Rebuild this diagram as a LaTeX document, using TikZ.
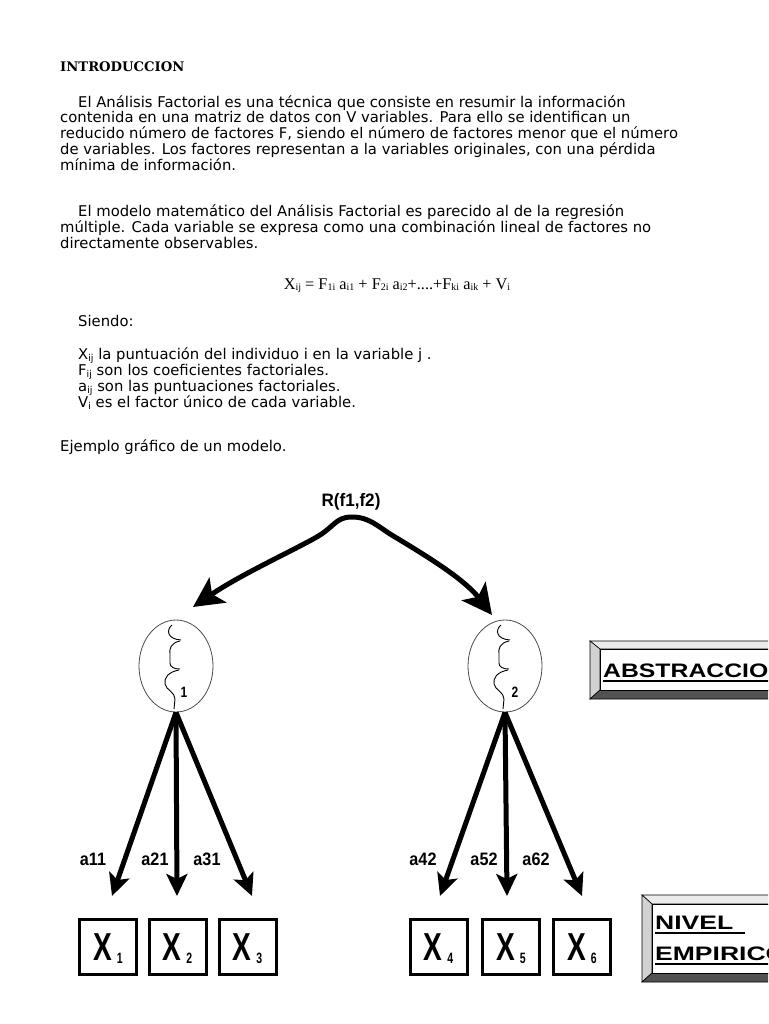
\documentclass[tikz,border=0pt]{standalone}
\usepackage{fontspec}
\usepackage{graphicx}
\setmainfont{DejaVu Sans}
\newfontfamily\titlefont{DejaVu Serif}
\newfontfamily\timesfont{Liberation Serif}
\newfontfamily\arialfont{Liberation Sans}
\usetikzlibrary{arrows.meta,shapes.geometric}
\newcommand{\sbx}[1]{\raisebox{-2pt}{\fontsize{9.5}{9.5}\selectfont #1}}
\newcommand{\fsb}[1]{\raisebox{-1.2pt}{\fontsize{10}{10}\selectfont #1}}
\newcommand{\narr}[2]{\scalebox{#1}[1]{#2}}
\newcommand{\xlab}[1]{\narr{0.72}{\fontsize{39}{39}\selectfont X}\hspace{5pt}\raisebox{-3pt}[0pt][0pt]{\narr{0.7}{\fontsize{15}{15}\selectfont #1}}}
\begin{document}
\begin{tikzpicture}[x=1pt,y=-1pt,
  body/.style={anchor=base west, inner sep=0pt, font=\fontsize{14.8}{16}\selectfont},
  ttl/.style={anchor=base west, inner sep=0pt, font=\titlefont\bfseries\fontsize{13.2}{14}\selectfont},
  formula/.style={anchor=base, inner sep=0pt, font=\timesfont\fontsize{16.3}{17}\selectfont},
  lab/.style={anchor=base, inner sep=0pt, font=\arialfont\bfseries\fontsize{18}{18}\selectfont},
  fnum/.style={anchor=base, inner sep=0pt, font=\arialfont\bfseries\fontsize{15}{15}\selectfont},
  factor/.style={ellipse, draw=black!70, line width=0.8pt, fill=white, minimum width=74pt, minimum height=92pt, inner sep=0pt},
  squig/.style={draw=black, line width=0.9pt},
  varbox/.style={rectangle, draw=black, line width=3pt, minimum width=57pt, minimum height=55pt, inner sep=0pt, font=\arialfont\bfseries},
  loadarrow/.style={line width=5pt, -{Stealth[length=22pt,width=21pt,inset=5pt]}},
  corrarrow/.style={line width=5pt, {Stealth[length=30pt,width=30pt,inset=7pt]}-{Stealth[length=30pt,width=30pt,inset=7pt]}},
  bevtop/.style={fill=black!8, draw=black, line width=0.6pt},
  bevleft/.style={fill=black!18, draw=black, line width=0.6pt},
  bevbot/.style={fill=black!68, draw=black, line width=0.6pt},
  bevinner/.style={fill=white, draw=black, line width=0.8pt},
  btntext/.style={anchor=base west, inner sep=0pt, font=\arialfont\bfseries\fontsize{19.5}{19.5}\selectfont}
]
\useasboundingbox (0,0) rectangle (768,1024);
\clip (0,0) rectangle (768,1024);
\fill[white] (0,0) rectangle (768,1024);

% ---------- text ----------
\node[ttl] (title) at (60,72) {INTRODUCCION};
\node[body] (p1a) at (78,107.5) {El Análisis Factorial es una técnica que consiste en resumir la información};
\node[body] (p1b) at (60,123) {contenida en una matriz de datos con V variables. Para ello se identifican un};
\node[body] (p1c) at (60,138.8) {reducido número de factores F, siendo el número de factores menor que el número};
\node[body] (p1d) at (60,154.6) {de variables. Los factores representan a la variables originales, con una pérdida};
\node[body] (p1e) at (60,170.4) {mínima de información.};

\node[body] (p2a) at (78,216.5) {El modelo matemático del Análisis Factorial es parecido al de la regresión};
\node[body] (p2b) at (60,232.3) {múltiple. Cada variable se expresa como una combinación lineal de factores no};
\node[body] (p2c) at (60,248.1) {directamente observables.};

\node[formula] (eq) at (397,289) {X\fsb{ij} = F\fsb{1i} a\fsb{i1} + F\fsb{2i} a\fsb{i2}+....+F\fsb{ki} a\fsb{ik} + V\fsb{i}};

\node[body] (siendo) at (78,326) {Siendo:};
\node[body] (d1) at (78,359) {X\sbx{ij} la puntuación del individuo i en la variable j .};
\node[body] (d2) at (78,375) {F\sbx{ij} son los coeficientes factoriales.};
\node[body] (d3) at (78,391) {a\sbx{ij} son las puntuaciones factoriales.};
\node[body] (d4) at (78,407) {V\sbx{i} es el factor único de cada variable.};
\node[body] (ej) at (60,451) {Ejemplo gráfico de un modelo.};

% ---------- factors ----------
\node[factor] (f1) at (176,666) {};
\node[factor] (f2) at (505,666) {};
\foreach \dx in {0,329}{
  \begin{scope}[xshift=\dx pt]
    \draw[squig] (172,625) .. controls (166,630) and (167,639) .. (181,640);
    \draw[squig] (180,641) .. controls (171,643) and (169,648) .. (170,655) -- (170,663) .. controls (170,667) and (174,669) .. (180,669);
    \draw[squig] (179,670) .. controls (168,672) and (164,678) .. (165,684) .. controls (166,690) and (175,692) .. (175,699) -- (174,709);
  \end{scope}
}
\node[fnum] (n1) at (184,697) {\narr{0.8}{1}};
\node[fnum] (n2) at (515,697) {\narr{0.8}{2}};

% ---------- correlation ----------
\node[lab] (rlab) at (351,506) {\narr{0.95}{R(f1,f2)}};
\coordinate (cl) at (193,607);
\coordinate (cr) at (492,615);
\draw[corrarrow] (cl) .. controls (240,575) and (290,552) .. (315,538)
   .. controls (335,527) and (335,517) .. (352,517)
   .. controls (370,517) and (378,527) .. (395,537)
   .. controls (430,558) and (465,580) .. (cr);

% ---------- variables ----------
\node[varbox] (x1) at (108,947) {\xlab{1}};
\node[varbox] (x2) at (177.5,947) {\xlab{2}};
\node[varbox] (x3) at (247.5,947) {\xlab{3}};
\node[varbox] (x4) at (438.5,947) {\xlab{4}};
\node[varbox] (x5) at (511,947) {\xlab{5}};
\node[varbox] (x6) at (582,947) {\xlab{6}};

\coordinate (t1) at (112,896);
\coordinate (t2) at (177,896);
\coordinate (t3) at (252,896);
\coordinate (t4) at (440,896);
\coordinate (t5) at (507,896);
\coordinate (t6) at (582,896);
\draw[loadarrow] (f1.south) -- (t1);
\draw[loadarrow] (f1.south) -- (t2);
\draw[loadarrow] (f1.south) -- (t3);
\draw[loadarrow] (f2.south) -- (t4);
\draw[loadarrow] (f2.south) -- (t5);
\draw[loadarrow] (f2.south) -- (t6);

\node[lab] (a11) at (93,865) {\narr{0.9}{a11}};
\node[lab] (a21) at (155,865) {\narr{0.9}{a21}};
\node[lab] (a31) at (207,865) {\narr{0.9}{a31}};
\node[lab] (a42) at (423,865) {\narr{0.9}{a42}};
\node[lab] (a52) at (484,865) {\narr{0.9}{a52}};
\node[lab] (a62) at (536,865) {\narr{0.9}{a62}};

% ---------- ABSTRACCION button ----------
\draw[bevtop] (590,641) -- (800,641) -- (790,649) -- (600,649) -- cycle;
\draw[bevleft] (590,641) -- (600,649) -- (600,690) -- (590,699) -- cycle;
\draw[bevbot] (590,699) -- (600,690) -- (790,690) -- (800,699) -- cycle;
\draw[bevinner] (600,649) rectangle (790,690);
\node[btntext] (abs) at (603,677) {\scalebox{1.27}[1]{ABSTRACCION}};
\draw[line width=2pt] ([yshift=-3.5pt]abs.base west) -- ([yshift=-3.5pt]abs.base east);

% ---------- NIVEL EMPIRICO button ----------
\draw[bevtop] (642,895) -- (800,895) -- (790,904) -- (652,904) -- cycle;
\draw[bevleft] (642,895) -- (652,904) -- (652,973) -- (642,982) -- cycle;
\draw[bevbot] (642,982) -- (652,973) -- (790,973) -- (800,982) -- cycle;
\draw[bevinner] (652,904) rectangle (790,973);
\node[btntext] (niv) at (655,929) {\scalebox{1.36}[1]{NIVEL}};
\draw[line width=2pt] ([yshift=-3.5pt]niv.base west) -- ([yshift=-3.5pt,xshift=11pt]niv.base east);
\node[btntext] (emp) at (655,960) {\scalebox{1.36}[1]{EMPIRICO}};
\draw[line width=2pt] ([yshift=-3.5pt]emp.base west) -- ([yshift=-3.5pt]emp.base east);
\end{tikzpicture}
\end{document}
